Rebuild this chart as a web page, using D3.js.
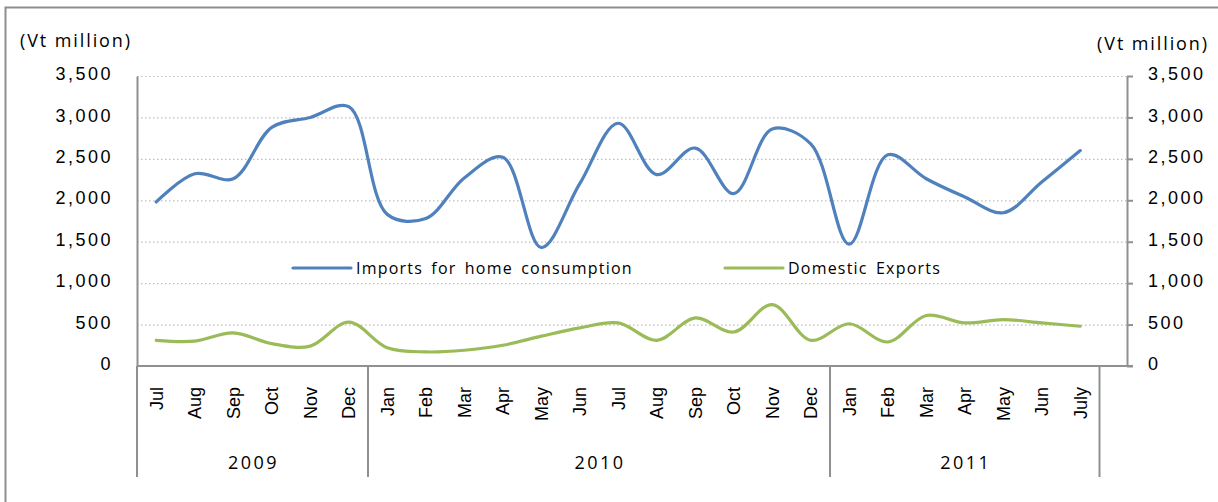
<!DOCTYPE html>
<html>
<head>
<meta charset="utf-8">
<script src="https://cdn.jsdelivr.net/npm/d3@7"></script>
<style>
    body { margin: 0; background: #fff; }
    svg { display: block; font-family: "Open Sans", sans-serif; }
    .num { font-size: 18px; letter-spacing: 2.5px; fill: #000; }
    .unit { font-size: 18px; letter-spacing: 1.9px; fill: #000; }
    .month { font-size: 18px; fill: #000; }
    .legend { font-size: 16px; letter-spacing: 1.2px; word-spacing: 3px; fill: #000; }
</style>
</head>
<body>
<div id="plot"></div>
<script>
let svgWidth = 1218;
let svgHeight = 502;

// Data
let monthLabels = ['Jul', 'Aug', 'Sep', 'Oct', 'Nov', 'Dec',
    'Jan', 'Feb', 'Mar', 'Apr', 'May', 'Jun', 'Jul', 'Aug', 'Sep', 'Oct', 'Nov', 'Dec',
    'Jan', 'Feb', 'Mar', 'Apr', 'May', 'Jun', 'July'];
let yearLabels = ['2009', '2010', '2011'];
let monthsPerYear = [6, 12, 7];
let imports = [1980, 2320, 2260, 2880, 3000, 3130,
    1830, 1780, 2270, 2520, 1430, 2200, 2930, 2310, 2630, 2080, 2860, 2680,
    1470, 2550, 2260, 2040, 1850, 2220, 2600];
let exports = [310, 300, 400, 270, 240, 530,
    220, 170, 190, 250, 360, 460, 520, 310, 580, 410, 740, 310,
    510, 290, 610, 520, 560, 520, 480];
let yTicks = [0, 500, 1000, 1500, 2000, 2500, 3000, 3500];
let seriesNames = ['Imports for home consumption', 'Domestic Exports'];
let seriesColors = ['#4f81bd', '#9bbb59'];

let plotLeft = 137;
let plotRight = 1127;
let plotTop = 76;
let plotBottom = 366;
let bandWidth = 38.5;

let $svg = d3.select('#plot')
    .append('svg')
    .attr('width', svgWidth)
    .attr('height', svgHeight);

// outer chart border (runs off the right and bottom edges)
$svg.append('rect')
    .attr('x', 5.5)
    .attr('y', 7.5)
    .attr('width', 1400)
    .attr('height', 700)
    .attr('fill', 'none')
    .attr('stroke', '#8e8e8e')
    .attr('stroke-width', 2);

let idx = d3.range(monthLabels.length);

let xScale = d3.scaleBand()
    .domain(idx)
    .range([plotLeft, plotLeft + bandWidth * monthLabels.length])
    .padding(0);

let yScale = d3.scaleLinear()
    .domain([0, 3500])
    .range([plotBottom, plotTop]);

// gridlines
$svg.append('g')
    .attr('transform', `translate(${plotLeft}, 0)`)
    .call(d3.axisLeft(yScale).tickValues(yTicks.slice(1)).tickSize(-(plotRight - plotLeft)).tickFormat(''))
    .call(g => g.select('.domain').remove())
    .call(g => g.selectAll('line')
        .attr('stroke', '#bdbdbd')
        .attr('stroke-width', 1.2)
        .attr('stroke-dasharray', '1.5,2.5'));

// left axis
$svg.append('g')
    .attr('transform', `translate(${plotLeft}, 0)`)
    .call(d3.axisLeft(yScale).tickValues(yTicks).tickSize(0).tickPadding(24).tickFormat(d3.format(',')))
    .call(g => g.select('.domain').attr('stroke', '#909090').attr('stroke-width', 2))
    .call(g => g.selectAll('text').attr('class', 'num').attr('font-family', null).attr('font-size', null).attr('dy', '0.2em'));

// right axis
$svg.append('g')
    .attr('transform', `translate(${plotRight}, 0)`)
    .call(d3.axisRight(yScale).tickValues(yTicks).tickSizeOuter(0).tickSizeInner(6).tickPadding(15).tickFormat(d3.format(',')))
    .call(g => g.select('.domain').attr('stroke', '#909090').attr('stroke-width', 2))
    .call(g => g.selectAll('line').attr('stroke', '#909090').attr('stroke-width', 2))
    .call(g => g.selectAll('text').attr('class', 'num').attr('font-family', null).attr('font-size', null).attr('dy', '0.2em'));

// bottom axis line
$svg.append('line')
    .attr('x1', plotLeft)
    .attr('x2', plotRight + 6)
    .attr('y1', plotBottom)
    .attr('y2', plotBottom)
    .attr('stroke', '#909090')
    .attr('stroke-width', 2);

// month labels
let monthAxis = $svg.append('g')
    .attr('transform', `translate(0, ${plotBottom})`)
    .call(d3.axisBottom(xScale).tickSize(0).tickFormat(i => monthLabels[i]));
monthAxis.select('.domain').remove();
monthAxis.selectAll('text')
    .attr('class', 'month')
    .attr('font-family', null)
    .attr('font-size', null)
    .attr('text-anchor', 'end')
    .attr('transform', 'rotate(-90)')
    .attr('x', -21)
    .attr('y', 0)
    .attr('dy', '0.35em');

// year groups and separators
let yearStarts = [0];
monthsPerYear.forEach((n, i) => yearStarts.push(yearStarts[i] + n));

yearStarts.forEach(s => {
    let xPos = s < monthLabels.length ? xScale(s) : xScale(s - 1) + xScale.bandwidth();
    $svg.append('line')
        .attr('x1', xPos)
        .attr('x2', xPos)
        .attr('y1', plotBottom)
        .attr('y2', 477)
        .attr('stroke', '#909090')
        .attr('stroke-width', 2);
});

yearLabels.forEach((yr, i) => {
    let x0 = xScale(yearStarts[i]);
    let x1 = xScale(yearStarts[i + 1] - 1) + xScale.bandwidth();
    $svg.append('text')
        .attr('class', 'num')
        .attr('x', (x0 + x1) / 2 + 1)
        .attr('y', 469)
        .attr('text-anchor', 'middle')
        .text(yr);
});

// unit labels
$svg.append('text')
    .attr('class', 'unit')
    .attr('x', 20)
    .attr('y', 47)
    .text('(Vt million)');

$svg.append('text')
    .attr('class', 'unit')
    .attr('x', 1209)
    .attr('y', 50)
    .attr('text-anchor', 'end')
    .text('(Vt million)');

// lines
let line = d3.line()
    .x((d, i) => xScale(i) + xScale.bandwidth() / 2)
    .y(d => yScale(d))
    .curve(d3.curveCatmullRom.alpha(0.5));

[imports, exports].forEach((series, i) => {
    $svg.append('path')
        .datum(series)
        .attr('d', line)
        .attr('fill', 'none')
        .attr('stroke', seriesColors[i])
        .attr('stroke-width', 3.2)
        .attr('stroke-linecap', 'round');
});

// legend
let legendY = 268;
let legendX = [293, 725];
seriesNames.forEach((name, i) => {
    $svg.append('line')
        .attr('x1', legendX[i])
        .attr('x2', legendX[i] + 58)
        .attr('y1', legendY)
        .attr('y2', legendY)
        .attr('stroke', seriesColors[i])
        .attr('stroke-width', 3.2)
        .attr('stroke-linecap', 'round');
    $svg.append('text')
        .attr('class', 'legend')
        .attr('x', legendX[i] + 63)
        .attr('y', legendY)
        .attr('dy', '0.35em')
        .text(name);
});
</script>
</body>
</html>
